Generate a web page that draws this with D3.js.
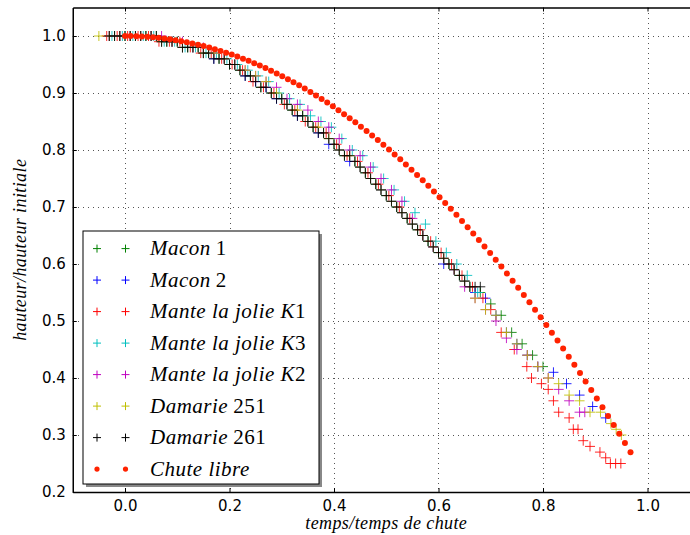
<!DOCTYPE html>
<html><head><meta charset="utf-8">
<script src="https://cdn.jsdelivr.net/npm/d3@7/dist/d3.min.js"></script>
<style>body{margin:0;background:#fff}svg{display:block}</style>
</head><body>
<svg id="c" width="690" height="535"></svg>
<script>
const xTicks = [0.0, 0.2, 0.4, 0.6, 0.8, 1.0];
const yTicks = [0.2, 0.3, 0.4, 0.5, 0.6, 0.7, 0.8, 0.9, 1.0];
const xLabel = "temps/temps de chute";
const yLabel = "hauteur/hauteur initiale";

const seriesNames = [
  ["Macon", "1"], ["Macon", "2"], ["Mante la jolie K", "1"], ["Mante la jolie K", "3"],
  ["Mante la jolie K", "2"], ["Damarie", "251"], ["Damarie", "261"], ["Chute libre", ""]
];
const seriesColors = ["#008000", "#0000ff", "#ff0000", "#00bfbf", "#bf00bf", "#bfbf00", "#000000", "#ff2200"];

const macon1 = [[-0.02,1],[0,1],[0.02,1],[0.04,1],[0.06,1],[0.08,0.99],[0.10,0.99],[0.12,0.98],[0.14,0.98],[0.16,0.97],[0.18,0.96],[0.20,0.95],[0.22,0.94],[0.24,0.93],[0.26,0.91],[0.28,0.90],[0.30,0.89],[0.32,0.87],[0.34,0.86],[0.36,0.84],[0.38,0.83],[0.40,0.81],[0.42,0.79],[0.44,0.78],[0.46,0.76],[0.48,0.74],[0.50,0.72],[0.52,0.70],[0.54,0.68],[0.56,0.66],[0.58,0.64],[0.60,0.62],[0.62,0.60],[0.64,0.58],[0.66,0.56],[0.68,0.55],[0.70,0.53],[0.72,0.51],[0.74,0.48],[0.76,0.46],[0.78,0.44],[0.80,0.42]];
const macon2 = [[-0.03,1],[-0.01,1],[0.01,1],[0.03,1],[0.05,1],[0.07,0.99],[0.09,0.99],[0.11,0.98],[0.13,0.98],[0.15,0.97],[0.17,0.96],[0.19,0.96],[0.21,0.95],[0.23,0.93],[0.25,0.92],[0.27,0.91],[0.29,0.89],[0.31,0.88],[0.33,0.86],[0.35,0.85],[0.37,0.83],[0.39,0.81],[0.41,0.80],[0.43,0.78],[0.45,0.77],[0.47,0.75],[0.49,0.73],[0.51,0.71],[0.53,0.69],[0.55,0.67],[0.57,0.65],[0.59,0.63],[0.61,0.60],[0.63,0.59],[0.65,0.57],[0.67,0.55],[0.69,0.54],[0.71,0.51],[0.73,0.48],[0.75,0.46],[0.77,0.44],[0.79,0.42],[0.82,0.41],[0.845,0.39],[0.87,0.37],[0.895,0.35],[0.92,0.33]];
const manteK1 = [[-0.035,1],[-0.015,1],[0.005,1],[0.025,1],[0.045,1],[0.065,0.99],[0.085,0.99],[0.105,0.99],[0.125,0.98],[0.145,0.97],[0.165,0.97],[0.185,0.96],[0.205,0.95],[0.225,0.94],[0.245,0.92],[0.265,0.91],[0.285,0.90],[0.305,0.88],[0.325,0.87],[0.345,0.85],[0.365,0.84],[0.385,0.83],[0.405,0.81],[0.425,0.79],[0.445,0.78],[0.465,0.76],[0.485,0.74],[0.505,0.72],[0.525,0.70],[0.545,0.68],[0.565,0.66],[0.585,0.64],[0.605,0.62],[0.625,0.60],[0.645,0.58],[0.665,0.56],[0.685,0.54],[0.70,0.52],[0.72,0.48],[0.745,0.45],[0.769,0.42],[0.778,0.40],[0.797,0.39],[0.81,0.38],[0.82,0.36],[0.83,0.34],[0.85,0.33],[0.858,0.31],[0.867,0.31],[0.877,0.29],[0.89,0.28],[0.909,0.27],[0.92,0.26],[0.929,0.25],[0.939,0.25],[0.949,0.25]];
const manteK3 = [[-0.025,1],[-0.005,1],[0.015,1],[0.035,1],[0.055,1],[0.075,0.99],[0.095,0.99],[0.115,0.98],[0.135,0.98],[0.155,0.97],[0.175,0.97],[0.195,0.96],[0.215,0.95],[0.235,0.94],[0.255,0.93],[0.275,0.92],[0.295,0.90],[0.315,0.89],[0.335,0.88],[0.355,0.86],[0.375,0.85],[0.395,0.84],[0.415,0.82],[0.435,0.80],[0.455,0.79],[0.475,0.77],[0.495,0.75],[0.515,0.73],[0.535,0.71],[0.555,0.69],[0.575,0.67],[0.595,0.64],[0.615,0.62],[0.635,0.60],[0.655,0.58],[0.675,0.55]];
const manteK2 = [[-0.03,1],[-0.01,1],[0.01,1],[0.03,1],[0.05,1],[0.07,1],[0.09,0.99],[0.11,0.99],[0.13,0.98],[0.15,0.98],[0.17,0.97],[0.19,0.96],[0.21,0.95],[0.23,0.94],[0.25,0.93],[0.27,0.92],[0.29,0.91],[0.31,0.89],[0.33,0.88],[0.35,0.87],[0.37,0.85],[0.39,0.84],[0.41,0.82],[0.43,0.80],[0.45,0.79],[0.47,0.77],[0.49,0.75],[0.51,0.73],[0.53,0.71],[0.55,0.68],[0.57,0.65],[0.59,0.63],[0.61,0.61],[0.63,0.59],[0.65,0.56],[0.67,0.54],[0.69,0.52],[0.71,0.50],[0.73,0.47],[0.75,0.45],[0.77,0.44],[0.79,0.42],[0.81,0.40],[0.83,0.38],[0.85,0.36],[0.87,0.34],[0.88,0.34]];
const damarie251 = [[-0.05,1],[-0.03,1],[-0.01,1],[0.01,1],[0.03,1],[0.05,1],[0.07,0.99],[0.09,0.99],[0.11,0.98],[0.13,0.98],[0.15,0.97],[0.17,0.97],[0.19,0.96],[0.21,0.95],[0.23,0.94],[0.25,0.93],[0.27,0.92],[0.29,0.90],[0.31,0.88],[0.33,0.87],[0.35,0.85],[0.37,0.84],[0.39,0.82],[0.41,0.80],[0.43,0.79],[0.45,0.77],[0.47,0.75],[0.49,0.73],[0.51,0.71],[0.53,0.69],[0.55,0.67],[0.57,0.65],[0.59,0.63],[0.61,0.61],[0.63,0.59],[0.65,0.57],[0.67,0.54],[0.69,0.52],[0.71,0.51],[0.73,0.48],[0.75,0.46],[0.77,0.44],[0.79,0.42],[0.81,0.40],[0.83,0.39],[0.85,0.37],[0.87,0.36],[0.89,0.34],[0.91,0.34],[0.93,0.32],[0.94,0.31],[0.95,0.30]];
const damarie261 = [[-0.03,1],[-0.02,1],[-0.01,1],[0,1],[0.01,1],[0.02,1],[0.03,1],[0.04,1],[0.05,1],[0.06,1],[0.07,0.99],[0.08,0.99],[0.09,0.99],[0.10,0.99],[0.11,0.98],[0.12,0.98],[0.13,0.98],[0.14,0.98],[0.15,0.97],[0.16,0.97],[0.17,0.96],[0.18,0.96],[0.19,0.96],[0.20,0.95],[0.21,0.95],[0.22,0.94],[0.23,0.93],[0.24,0.93],[0.25,0.92],[0.26,0.91],[0.27,0.91],[0.28,0.90],[0.29,0.89],[0.30,0.89],[0.31,0.88],[0.32,0.87],[0.33,0.86],[0.34,0.86],[0.35,0.85],[0.36,0.84],[0.37,0.83],[0.38,0.83],[0.39,0.82],[0.40,0.81],[0.41,0.80],[0.42,0.79],[0.43,0.79],[0.44,0.78],[0.45,0.77],[0.46,0.76],[0.47,0.75],[0.48,0.74],[0.49,0.73],[0.50,0.72],[0.51,0.71],[0.52,0.70],[0.53,0.69],[0.54,0.68],[0.55,0.67],[0.56,0.66],[0.57,0.65],[0.58,0.64],[0.59,0.63],[0.60,0.62],[0.61,0.61],[0.62,0.60],[0.63,0.59],[0.64,0.58],[0.65,0.57],[0.66,0.56],[0.67,0.56],[0.68,0.56]];

const chuteT = [0,0.0108,0.0215,0.0323,0.043,0.0538,0.0645,0.0753,0.086,0.0968,0.1075,0.1183,0.129,0.1398,0.1505,0.1613,0.172,0.1828,0.1935,0.2043,0.215,0.2258,0.2365,0.2473,0.258,0.2688,0.2795,0.2903,0.301,0.3118,0.3225,0.3333,0.344,0.3548,0.3655,0.3763,0.387,0.3978,0.4085,0.4193,0.43,0.4408,0.4515,0.4623,0.473,0.4838,0.4945,0.5053,0.516,0.5268,0.5375,0.5483,0.559,0.5698,0.5805,0.5913,0.602,0.6128,0.6235,0.6343,0.645,0.6558,0.6665,0.6773,0.688,0.6988,0.7095,0.7203,0.731,0.7418,0.7525,0.7633,0.774,0.7848,0.7955,0.8063,0.817,0.8278,0.8385,0.8493,0.86,0.8708,0.8815,0.8923,0.903,0.9138,0.9245,0.9353,0.946,0.9568,0.9675];
const chuteH = [1.0,0.9999,0.9996,0.9992,0.9986,0.9977,0.9968,0.9956,0.9942,0.9927,0.991,0.9891,0.987,0.9848,0.9823,0.9797,0.9769,0.9739,0.9708,0.9675,0.9639,0.9603,0.9564,0.9523,0.9481,0.9437,0.9391,0.9343,0.9293,0.9242,0.9189,0.9134,0.9077,0.9018,0.8958,0.8896,0.8832,0.8766,0.8698,0.8629,0.8558,0.8485,0.841,0.8333,0.8255,0.8175,0.8093,0.8009,0.7923,0.7836,0.7747,0.7655,0.7563,0.7468,0.7372,0.7273,0.7173,0.7071,0.6968,0.6862,0.6755,0.6646,0.6535,0.6422,0.6308,0.6192,0.6074,0.5954,0.5832,0.5708,0.5583,0.5456,0.5327,0.5197,0.5064,0.493,0.4794,0.4656,0.4516,0.4374,0.4231,0.4086,0.3939,0.379,0.364,0.3487,0.3333,0.3177,0.302,0.286,0.2699];

const crossSeries = [macon1, macon2, manteK1, manteK3, manteK2, damarie251, damarie261];

const svg = d3.select("#c");
const x = d3.scaleLinear().domain([-0.1, 1.1]).range([72.75, 699.75]);
const y = d3.scaleLinear().domain([0.2, 1.05]).range([492, 7.5]);
const [x0, x1] = x.range(); const [y0, y1] = y.range();

svg.append("defs").append("clipPath").attr("id", "clip")
  .append("rect").attr("x", x0).attr("y", y1).attr("width", x1 - x0).attr("height", y0 - y1);

// grid
const grid = svg.append("g").attr("stroke", "#555").attr("stroke-width", 1)
  .attr("stroke-dasharray", "1,4").attr("shape-rendering", "crispEdges");
grid.selectAll(".gx").data(xTicks).join("line")
  .attr("x1", d => Math.round(x(d)) + 0.5).attr("x2", d => Math.round(x(d)) + 0.5)
  .attr("y1", y1).attr("y2", y0);
grid.selectAll(".gy").data(yTicks).join("line")
  .attr("y1", d => Math.round(y(d)) + 0.5).attr("y2", d => Math.round(y(d)) + 0.5)
  .attr("x1", x0).attr("x2", x1);

// data
const plot = svg.append("g").attr("clip-path", "url(#clip)");
const cross = (px, py, s) => `M${px - s},${py}H${px + s}M${px},${py - s}V${py + s}`;
crossSeries.forEach((data, i) => {
  plot.append("path")
    .attr("d", data.map(d => cross(x(d[0]), y(d[1]), 5)).join(""))
    .attr("fill", "none").attr("stroke", seriesColors[i]).attr("stroke-width", 1)
    .attr("stroke-opacity", 0.85);
});
plot.selectAll(".dot").data(chuteT).join("circle")
  .attr("cx", (d) => x(d)).attr("cy", (d, i) => y(chuteH[i])).attr("r", 3)
  .attr("fill", seriesColors[7]);

// axes
const fontTicks = "DejaVu Sans, sans-serif";
const axB = svg.append("g").attr("transform", `translate(0,${y0})`)
  .call(d3.axisBottom(x).tickValues(xTicks).tickFormat(d3.format(".1f")).tickSize(-4).tickSizeOuter(0).tickPadding(8));
const axT = svg.append("g").attr("transform", `translate(0,${y1})`)
  .call(d3.axisTop(x).tickValues(xTicks).tickFormat("").tickSize(-4).tickSizeOuter(0));
const axL = svg.append("g").attr("transform", `translate(${x0},0)`)
  .call(d3.axisLeft(y).tickValues(yTicks).tickFormat(d3.format(".1f")).tickSize(-4).tickSizeOuter(0).tickPadding(7));
const axR = svg.append("g").attr("transform", `translate(${x1},0)`)
  .call(d3.axisRight(y).tickValues(yTicks).tickFormat("").tickSize(-4).tickSizeOuter(0));
[axB, axT, axL, axR].forEach(a => {
  a.select(".domain").attr("stroke", "#000").attr("stroke-width", 1.5);
  a.selectAll(".tick line").attr("stroke", "#000").attr("stroke-width", 1);
  a.selectAll("text").attr("font-family", fontTicks).attr("font-size", 15).attr("fill", "#000");
});

// labels
const serif = "Liberation Serif, Times New Roman, serif";
svg.append("text").attr("x", (x0 + x1) / 2).attr("y", 529).attr("text-anchor", "middle")
  .attr("font-family", serif).attr("font-style", "italic").attr("font-size", 18)
  .attr("letter-spacing", 0.4).text(xLabel);
svg.append("text").attr("transform", `translate(26,${(y0 + y1) / 2}) rotate(-90)`).attr("text-anchor", "middle")
  .attr("font-family", serif).attr("font-style", "italic").attr("font-size", 18)
  .attr("letter-spacing", 0.4).text(yLabel);

// legend
const lg = svg.append("g");
lg.append("rect").attr("x", 86).attr("y", 234).attr("width", 236).attr("height", 253).attr("fill", "#888");
lg.append("rect").attr("x", 83).attr("y", 231).attr("width", 236).attr("height", 253)
  .attr("fill", "#fff").attr("stroke", "#000").attr("stroke-width", 1);
seriesNames.forEach((nm, i) => {
  const cy = 248.6 + i * 31.5;
  [97, 125.5].forEach(mx => {
    if (i < 7) {
      lg.append("path").attr("d", cross(mx, cy, 4)).attr("stroke", seriesColors[i]).attr("stroke-width", 1).attr("fill", "none");
    } else {
      lg.append("circle").attr("cx", mx).attr("cy", cy).attr("r", 2.6).attr("fill", seriesColors[i]);
    }
  });
  const t = lg.append("text").attr("x", 150).attr("y", cy + 6.5).attr("font-family", serif)
    .attr("font-size", 21).attr("letter-spacing", 0.5);
  t.append("tspan").attr("font-style", "italic").text(nm[0]);
  if (nm[1]) t.append("tspan").attr("font-style", "normal").attr("dx", nm[0].endsWith("K") ? 0 : 5).text(nm[1]);
});
</script>
</body></html>
